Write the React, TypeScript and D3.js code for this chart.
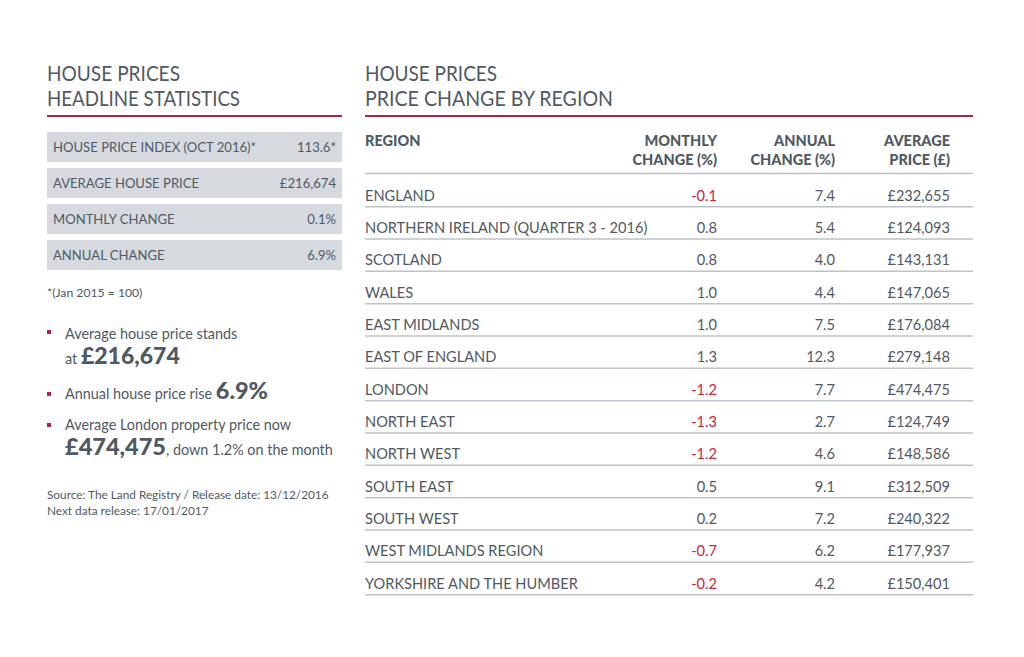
import React from "react";
import * as d3 from "d3";

const headlineLabels = ["HOUSE PRICE INDEX (OCT 2016)*", "AVERAGE HOUSE PRICE", "MONTHLY CHANGE", "ANNUAL CHANGE"];
const headlineValues = ["113.6*", "£216,674", "0.1%", "6.9%"];

const regions = [
  "ENGLAND",
  "NORTHERN IRELAND (QUARTER 3 - 2016)",
  "SCOTLAND",
  "WALES",
  "EAST MIDLANDS",
  "EAST OF ENGLAND",
  "LONDON",
  "NORTH EAST",
  "NORTH WEST",
  "SOUTH EAST",
  "SOUTH WEST",
  "WEST MIDLANDS REGION",
  "YORKSHIRE AND THE HUMBER",
];
const monthlyChange = [-0.1, 0.8, 0.8, 1.0, 1.0, 1.3, -1.2, -1.3, -1.2, 0.5, 0.2, -0.7, -0.2];
const annualChange = [7.4, 5.4, 4.0, 4.4, 7.5, 12.3, 7.7, 2.7, 4.6, 9.1, 7.2, 6.2, 4.2];
const averagePrice = [232655, 124093, 143131, 147065, 176084, 279148, 474475, 124749, 148586, 312509, 240322, 177937, 150401];

const columns = ["monthly", "annual", "price"];
const columnHeaders = [["MONTHLY", "CHANGE (%)"], ["ANNUAL", "CHANGE (%)"], ["AVERAGE", "PRICE (£)"]];

const FONT = "Lato, 'Open Sans', sans-serif";
const TEXT = "#4f5964";
const RED = "#b51f45";
const NEG = "#d0243c";
const BOX = "#d6dadf";
const RULE = "#bcc3ca";

export default function App() {
  const leftY = d3.scaleBand<string>().domain(headlineLabels).range([132, 270]).paddingInner(1 / 6).paddingOuter(0);
  const rowY = d3.scaleBand<string>().domain(regions).range([179, 179 + 13 * 32.33]);
  const colX = d3.scaleOrdinal<string, number>().domain(columns).range([717, 835, 950]);
  const fmtPrice = (v: number) => "£" + d3.format(",")(v);
  const fmt1 = (v: number) => d3.format(".1f")(v).replace("\u2212", "-");

  const title = (x: number, y: number, s: string, w: number) => (
    <text x={x} y={y} fontSize={21.5} fill={TEXT} textLength={w} lengthAdjust="spacingAndGlyphs">{s}</text>
  );

  return (
    <svg width={1024} height={657} style={{ position: "absolute", left: 0, top: 0, background: "#fff" }} fontFamily={FONT}>
      <rect width={1024} height={657} fill="#fff" />
      {/* Left title */}
      {title(47, 81, "HOUSE PRICES", 133)}
      {title(47, 106, "HEADLINE STATISTICS", 193)}
      <line x1={47} x2={342} y1={116} y2={116} stroke={RED} strokeWidth={2} />
      {headlineLabels.map((l, i) => {
        const y = leftY(l)!;
        const bw = leftY.bandwidth();
        return (
          <g key={l}>
            <rect x={47} y={y} width={295} height={bw} fill={BOX} />
            <text x={53} y={y + bw / 2 + 5} fontSize={13.1} fill={TEXT}>{l}</text>
            <text x={336} y={y + bw / 2 + 5} fontSize={13.1} fill={TEXT} textAnchor="end">{headlineValues[i]}</text>
          </g>
        );
      })}
      <text x={47} y={297} fontSize={12.2} fill={TEXT}>*(Jan 2015 = 100)</text>

      {/* Bullets */}
      <rect x={47} y={330} width={4} height={4} fill={RED} />
      <text x={65} y={339} fontSize={14.4} fill={TEXT}>Average house price stands</text>
      <text x={65} y={364} fill={TEXT}>
        <tspan fontSize={14.4}>at </tspan>
        <tspan fontSize={23} fontWeight={900}>£216,674</tspan>
      </text>
      <rect x={47} y={392} width={4} height={4} fill={RED} />
      <text x={65} y={399} fill={TEXT}>
        <tspan fontSize={14.4}>Annual house price rise </tspan>
        <tspan fontSize={23.5} fontWeight={900}>6.9%</tspan>
      </text>
      <rect x={47} y={423} width={4} height={4} fill={RED} />
      <text x={65} y={430} fontSize={14.4} fill={TEXT}>Average London property price now</text>
      <text x={65} y={455} fill={TEXT}>
        <tspan fontSize={23.5} fontWeight={900}>£474,475</tspan>
        <tspan fontSize={14.4}>, down 1.2% on the month</tspan>
      </text>
      <text x={47} y={499} fontSize={11.8} fill={TEXT}>Source: The Land Registry / Release date: 13/12/2016</text>
      <text x={47} y={515} fontSize={11.8} fill={TEXT}>Next data release: 17/01/2017</text>

      {/* Right title */}
      {title(365, 81, "HOUSE PRICES", 132)}
      {title(365, 106, "PRICE CHANGE BY REGION", 248)}
      <line x1={365} x2={973} y1={116} y2={116} stroke={RED} strokeWidth={2} />

      {/* Table header */}
      <text x={365} y={146} fontSize={14.5} fontWeight={900} fill={TEXT}>REGION</text>
      {columns.map((c, i) => (
        <text key={c} x={colX(c)} fontSize={14.5} fontWeight={900} fill={TEXT} textAnchor="end">
          <tspan x={colX(c)} y={146}>{columnHeaders[i][0]}</tspan>
          <tspan x={colX(c)} y={165}>{columnHeaders[i][1]}</tspan>
        </text>
      ))}
      <line x1={365} x2={973} y1={173.5} y2={173.5} stroke={RULE} strokeWidth={1.5} />

      {regions.map((r, i) => {
        const cy = rowY(r)! + rowY.bandwidth() / 2;
        const by = cy + 5.5;
        return (
          <g key={r}>
            <text x={365} y={by} fontSize={14.6} fill={TEXT}>{r}</text>
            <text x={colX("monthly")} y={by} fontSize={14.6} textAnchor="end" fill={monthlyChange[i] < 0 ? NEG : TEXT}>{fmt1(monthlyChange[i])}</text>
            <text x={colX("annual")} y={by} fontSize={14.6} textAnchor="end" fill={TEXT}>{fmt1(annualChange[i])}</text>
            <text x={colX("price")} y={by} fontSize={14.6} textAnchor="end" fill={TEXT}>{fmtPrice(averagePrice[i])}</text>
            <line x1={365} x2={973} y1={cy + 11.5} y2={cy + 11.5} stroke={RULE} strokeWidth={1.5} />
          </g>
        );
      })}
    </svg>
  );
}
